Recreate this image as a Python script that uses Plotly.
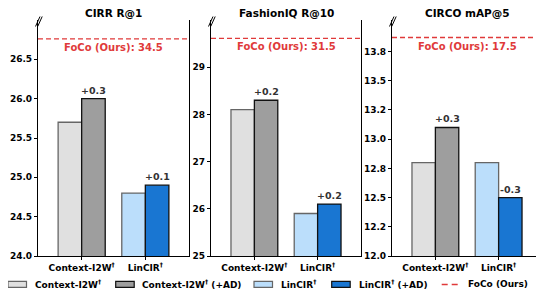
import plotly.graph_objects as go

# ---- data ----
metrics = ["CIRR R@1", "FashionIQ R@10", "CIRCO mAP@5"]
groups = ["Context-I2W<sup>†</sup>", "LinCIR<sup>†</sup>"]
ctx_base = [25.7, 28.1, 12.8]
ctx_ad = [26.0, 28.3, 13.1]
lin_base = [24.8, 25.9, 12.8]
lin_ad = [24.9, 26.1, 12.5]
foco = [34.5, 31.5, 17.5]
series_names = ["Context-I2W<sup>†</sup>", "Context-I2W<sup>†</sup> (+AD)",
                "LinCIR<sup>†</sup>", "LinCIR<sup>†</sup> (+AD)"]
foco_name = "FoCo (Ours)"
y_ranges = [[24.0, 27.0], [25.0, 30.0], [12.0, 14.02]]
y_tickvals = [[24.0, 24.5, 25.0, 25.5, 26.0, 26.5],
              [25, 26, 27, 28, 29],
              [12.0, 12.25, 12.5, 12.75, 13.0, 13.25, 13.5, 13.75]]
y_ticktext = [["24.0", "24.5", "25.0", "25.5", "26.0", "26.5"],
              ["25", "26", "27", "28", "29"],
              ["12.0", "12.2", "12.5", "12.8", "13.0", "13.2", "13.5", "13.8"]]
foco_line_y = [26.76, 29.61, 13.87]

# ---- style / layout (screen pixel targets; page body has an 8px margin) ----
FONT = "DejaVu Sans"
fills = ["#E0E0E0", "#9E9E9E", "#BBDEFB", "#1976D2"]
edges = ["#666666", "#111111", "#666666", "#111111"]
RED = "#E03A3A"
W = 0.37

OFF = 8
SCR_W, SCR_H = 544, 295
FIG_W, FIG_H = SCR_W - OFF, SCR_H - OFF
PLOT_L, PLOT_R, PLOT_T, PLOT_B = 38, 542, 20, 256.5   # screen coords
ML = PLOT_L - OFF
MR = SCR_W - PLOT_R
MT = PLOT_T - OFF
MB = SCR_H - PLOT_B
plot_w = PLOT_R - PLOT_L
plot_h = PLOT_B - PLOT_T
px_domains = [(38, 189), (211, 361), (392, 542)]
domains = [((a - PLOT_L) / plot_w, (b - PLOT_L) / plot_w) for a, b in px_domains]


def pxx(px):
    return (px - PLOT_L) / plot_w


def pxy(py):
    return (PLOT_B - py) / plot_h


fig = go.Figure()

values_by_series = [ctx_base, ctx_ad, lin_base, lin_ad]
xpos = [0, 0, 1, 1]
offsets = [-W, 0, -W, 0]

for i in range(3):
    xa = "x" if i == 0 else f"x{i+1}"
    ya = "y" if i == 0 else f"y{i+1}"
    for s in range(4):
        fig.add_trace(go.Bar(
            x=[xpos[s]], y=[values_by_series[s][i]],
            width=[W], offset=offsets[s],
            marker=dict(color=fills[s], line=dict(color=edges[s], width=1.3)),
            name=series_names[s], showlegend=False,
            xaxis=xa, yaxis=ya, hoverinfo="skip",
        ))
    # deltas
    for g, (b, a) in enumerate([(ctx_base[i], ctx_ad[i]), (lin_base[i], lin_ad[i])]):
        d = a - b
        fig.add_annotation(x=g + W / 2, y=a, xref=xa, yref=ya,
                           text=f"<b>{d:+.1f}</b>", showarrow=False,
                           yanchor="bottom", yshift=1,
                           font=dict(family=FONT, size=9.5, color="#333333"))
    # FoCo line
    fig.add_shape(type="line", xref=f"{xa} domain", yref=ya,
                  x0=0, x1=1, y0=foco_line_y[i], y1=foco_line_y[i],
                  line=dict(color=RED, width=1.4, dash="5px,3px"))
    fig.add_annotation(x=0.5, y=foco_line_y[i], xref=f"{xa} domain", yref=ya,
                       text=f"<b>{foco_name}: {foco[i]}</b>", showarrow=False,
                       yanchor="top", yshift=-1,
                       font=dict(family=FONT, size=10, color=RED))
    # title
    fig.add_annotation(x=0.5, y=pxy(12.5), xref=f"{xa} domain", yref="paper",
                       text=f"<b>{metrics[i]}</b>", showarrow=False,
                       yanchor="middle", borderpad=0,
                       font=dict(family=FONT, size=10.5, color="black"))
    # axis break marker
    for dx in (0, 2.2):
        fig.add_shape(type="line", xref="paper", yref="paper",
                      x0=pxx(px_domains[i][0] - 2.5 + dx), x1=pxx(px_domains[i][0] + 2.0 + dx),
                      y0=pxy(26.5), y1=pxy(16.5),
                      line=dict(color="black", width=1))

    axis_common = dict(showline=True, linecolor="black", linewidth=1.2,
                       ticks="outside", ticklen=3, tickwidth=1, tickcolor="black",
                       showgrid=False, zeroline=False, automargin=False,
                       tickfont=dict(family=FONT, size=9, color="black", weight="bold"))
    fig.update_layout(**{
        ("xaxis" if i == 0 else f"xaxis{i+1}"): dict(
            domain=list(domains[i]), anchor=ya, range=[-0.686, 1.686],
            tickvals=[0, 1], ticktext=groups, **axis_common),
        ("yaxis" if i == 0 else f"yaxis{i+1}"): dict(
            domain=[0, 1], anchor=xa, range=y_ranges[i], mirror=True,
            tickvals=y_tickvals[i], ticktext=y_ticktext[i], **axis_common),
    })

# ---- legend (drawn manually to match the reference layout) ----
leg_patch_x = [8, 115.7, 254, 331.7]
leg_text_x = [33, 140, 279, 357, 466]
LEG_Y = 285
for s in range(4):
    fig.add_shape(type="rect", xref="paper", yref="paper",
                  x0=pxx(leg_patch_x[s]), x1=pxx(leg_patch_x[s] + 18.5),
                  y0=pxy(LEG_Y + 3), y1=pxy(LEG_Y - 3),
                  fillcolor=fills[s], line=dict(color=edges[s], width=1.2))
fig.add_shape(type="line", xref="paper", yref="paper",
              x0=pxx(441.7), x1=pxx(460), y0=pxy(LEG_Y), y1=pxy(LEG_Y),
              line=dict(color=RED, width=1.6, dash="6px,4px"))
for k, name in enumerate(series_names + [foco_name]):
    fig.add_annotation(x=pxx(leg_text_x[k]), y=pxy(LEG_Y), xref="paper", yref="paper",
                       text=f"<b>{name}</b>", showarrow=False,
                       xanchor="left", yanchor="middle",
                       font=dict(family=FONT, size=9, color="black"))

fig.update_layout(
    width=FIG_W, height=FIG_H,
    margin=dict(l=ML, r=MR, t=MT, b=MB, autoexpand=False),
    barmode="overlay", showlegend=False,
    plot_bgcolor="white", paper_bgcolor="white",
    font=dict(family=FONT, size=9, color="black"),
)

fig.write_html("out.html")
